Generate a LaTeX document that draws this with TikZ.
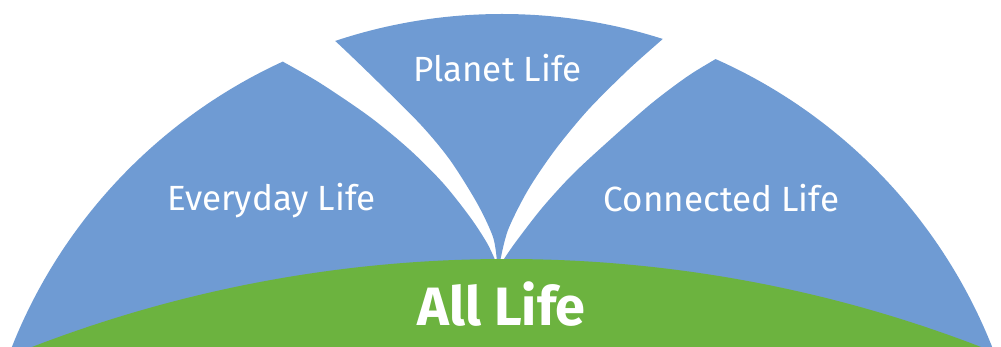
\documentclass[tikz,border=0pt]{standalone}
\usepackage{fontspec}
\setmainfont{Fira Sans}
\definecolor{lifeblue}{RGB}{111,155,211}
\definecolor{lifegreen}{RGB}{108,179,63}
\begin{document}
\begin{tikzpicture}[x=1pt,y=-1pt,
  lbl/.style={text=white,anchor=base,inner sep=0pt,font=\fontsize{35}{40}\selectfont},
  biglbl/.style={text=white,anchor=base,inner sep=0pt,font=\fontsize{54}{60}\selectfont\bfseries}]
\path[use as bounding box] (0,0) rectangle (1001,347);
\clip (0,0) rectangle (1001,347);
\coordinate (c) at (502,541);
\begin{scope}
  \clip (c) circle[radius=527pt];
  % blue pieces: everything inside the circle except the two white gaps
  \fill[lifeblue, even odd rule] (-10,-10) rectangle (1011,357)
    plot[smooth] coordinates {(496,262) (487,243) (470,217) (443,183) (410,150) (370,117) (320,83) (280,60) (240,37)}
    -- plot[smooth] coordinates {(300,12) (333,39) (378,82) (421,125) (450,160) (477,203) (493,237) (497,262)} -- cycle
    plot[smooth] coordinates {(500,262) (508,230) (528,190) (555,150) (588,110) (628,70) (665,37) (700,6)}
    -- plot[smooth] coordinates {(760,32) (719,57) (688,76) (652,103) (612,138) (573,174) (542,208) (515,243) (502,262)} -- cycle;
  % green
  \fill[lifegreen] (506.5,1577) circle[radius=1318pt];
\end{scope}
\node[lbl] (everyday) at (271.5,211) {Everyday Life};
\node[lbl] (planet) at (497.5,82) {Planet Life};
\node[lbl] (connected) at (721.5,212) {Connected Life};
\node[biglbl] (all) at (501.5,325) {All Life};
\end{tikzpicture}
\end{document}
